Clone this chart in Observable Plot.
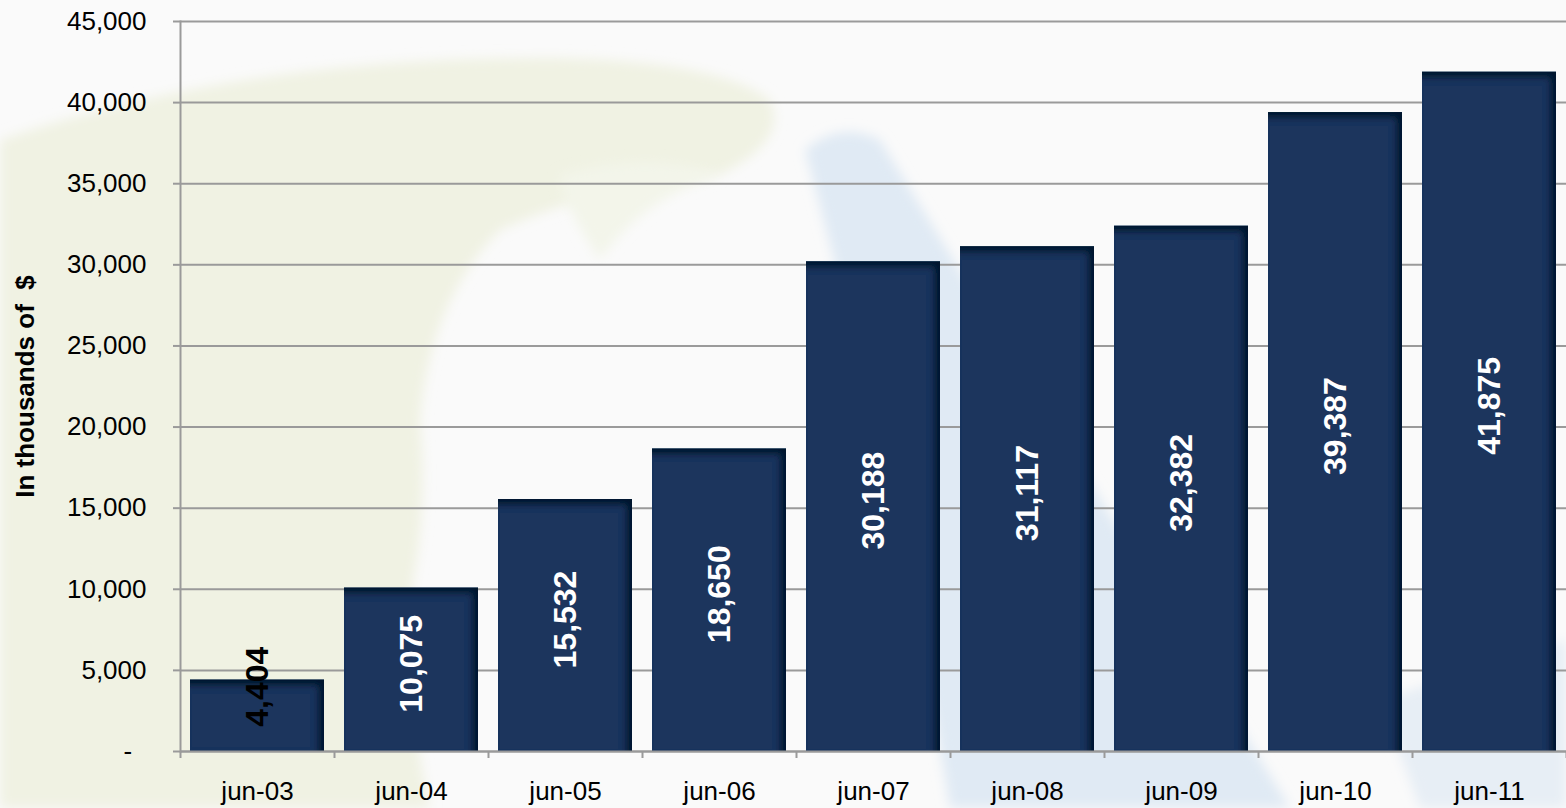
<!DOCTYPE html>
<html>
<head>
<meta charset="utf-8">
<script src="https://cdn.jsdelivr.net/npm/d3@7"></script>
<script src="https://cdn.jsdelivr.net/npm/@observablehq/plot@0.6"></script>
<style>
  html, body { margin: 0; padding: 0; background: #fafafa; }
  #wrap { position: relative; width: 1566px; height: 808px; overflow: hidden; }
  #bg { position: absolute; left: 0; top: 0; }
  #chart { position: absolute; left: 0; top: 0; }
  #chart svg { background: transparent !important; }
</style>
</head>
<body>
<div id="wrap">
  <svg id="bg" width="1566" height="808">
    <defs>
      <filter id="soft" x="-20%" y="-20%" width="140%" height="140%"><feGaussianBlur stdDeviation="6"/></filter>
    </defs>
    <path d="M0,140 Q250,55 560,58 Q720,62 770,100 Q790,140 720,175 Q600,185 500,230 Q430,300 420,420 Q430,520 405,620 Q410,720 430,808 L0,808 Z" fill="#f0f2e3" filter="url(#soft)"/>
    <path d="M560,175 Q650,150 720,175 Q640,200 600,260 Q560,200 560,175 Z" fill="#f3f5ea" filter="url(#soft)"/>
    <path d="M805,150 Q840,120 880,140 L1290,808 L950,808 Q900,500 805,150 Z" fill="#e0eaf4" filter="url(#soft)"/>
    <path d="M1380,700 L1566,640 L1566,808 L1420,808 Z" fill="#e7eef5" filter="url(#soft)"/>
  </svg>
  <div id="chart"></div>
</div>
<script>
const months = ["jun-03","jun-04","jun-05","jun-06","jun-07","jun-08","jun-09","jun-10","jun-11"];
const values = [4404, 10075, 15532, 18650, 30188, 31117, 32382, 39387, 41875];
const yTicks = [0, 5000, 10000, 15000, 20000, 25000, 30000, 35000, 40000, 45000];
const yTitle = "In thousands of\u00a0\u00a0$";

const data = months.map((m, i) => ({month: m, value: values[i]}));
const fmt = d3.format(",");
const W = 1566, H = 808, ML = 180, MR = 0, MT = 21, MB = 57;
const step = (W - ML - MR) / months.length;
const pxPerUnit = (H - MT - MB) / 45000;
const labelLen = 100; // approx rotated label length in px
const fits = d => d.value * pxPerUnit > labelLen;
const inside = data.filter(fits);
const outside = data.filter(d => !fits(d));

const font = "'Liberation Sans', Arial, sans-serif";
const grey = "#9a9a9a";

const chart = Plot.plot({
  width: W, height: H,
  marginLeft: ML, marginRight: MR, marginTop: MT, marginBottom: MB,
  style: {fontFamily: font, background: "transparent", color: "#000"},
  x: {domain: months, padding: 0, label: null},
  y: {domain: [0, 45000], label: null},
  marks: [
    Plot.gridY(yTicks, {stroke: grey, strokeOpacity: 1, strokeWidth: 2}),
    Plot.barY(data, {x: "month", y: "value", fill: "#1a365d", insetLeft: 10, insetRight: 10}),
    Plot.frame({anchor: "left", stroke: grey, strokeWidth: 2}),
    Plot.ruleY([0], {stroke: grey, strokeWidth: 2}),
    Plot.ruleX(months, {x: d => d, y1: 0, y2: -7 / pxPerUnit, dx: -step / 2, stroke: grey, strokeWidth: 2}),
    Plot.ruleX([months[months.length - 1]], {x: d => d, y1: 0, y2: -7 / pxPerUnit, dx: step / 2, stroke: grey, strokeWidth: 2}),
    Plot.axisY(yTicks, {tickSize: 7, tickPadding: 27, fontSize: 26, stroke: grey, strokeWidth: 2, fill: "#000",
      tickFormat: d => d === 0 ? "-\u00a0\u00a0" : fmt(d), label: null}),
    Plot.axisX({tickSize: 0, tickPadding: 30, fontSize: 26, fill: "#000", label: null}),
    Plot.text(inside, {x: "month", y: d => d.value / 2, text: d => fmt(d.value), rotate: -90,
      fill: "#ffffff", fontWeight: "bold", fontSize: 32, dy: -6}),
    Plot.text(outside, {x: "month", y: d => d.value / 2, text: d => fmt(d.value), rotate: -90,
      fill: "#000000", fontWeight: "bold", fontSize: 32, dy: -29}),
    Plot.text([yTitle], {frameAnchor: "left", textAnchor: "middle", lineAnchor: "middle", dx: -155, rotate: -90,
      fontWeight: "bold", fontSize: 26, fill: "#000"})
  ]
});

// inner shadow on bars
const ns = "http://www.w3.org/2000/svg";
const defs = document.createElementNS(ns, "defs");
defs.innerHTML = `
<filter id="innerShadow" x="-5%" y="-5%" width="110%" height="110%">
  <feOffset in="SourceAlpha" dx="-6" dy="6" result="off"/>
  <feGaussianBlur in="off" stdDeviation="3" result="blur"/>
  <feComposite in="SourceAlpha" in2="blur" operator="out" result="inv"/>
  <feFlood flood-color="#06101f" flood-opacity="0.85"/>
  <feComposite in2="inv" operator="in" result="shadow"/>
  <feMerge><feMergeNode in="SourceGraphic"/><feMergeNode in="shadow"/></feMerge>
</filter>`;
chart.insertBefore(defs, chart.firstChild);
const barG = chart.querySelector('g[aria-label="bar"]');
if (barG) barG.querySelectorAll("rect").forEach(r => r.setAttribute("filter", "url(#innerShadow)"));

document.getElementById("chart").appendChild(chart);
</script>
</body>
</html>
